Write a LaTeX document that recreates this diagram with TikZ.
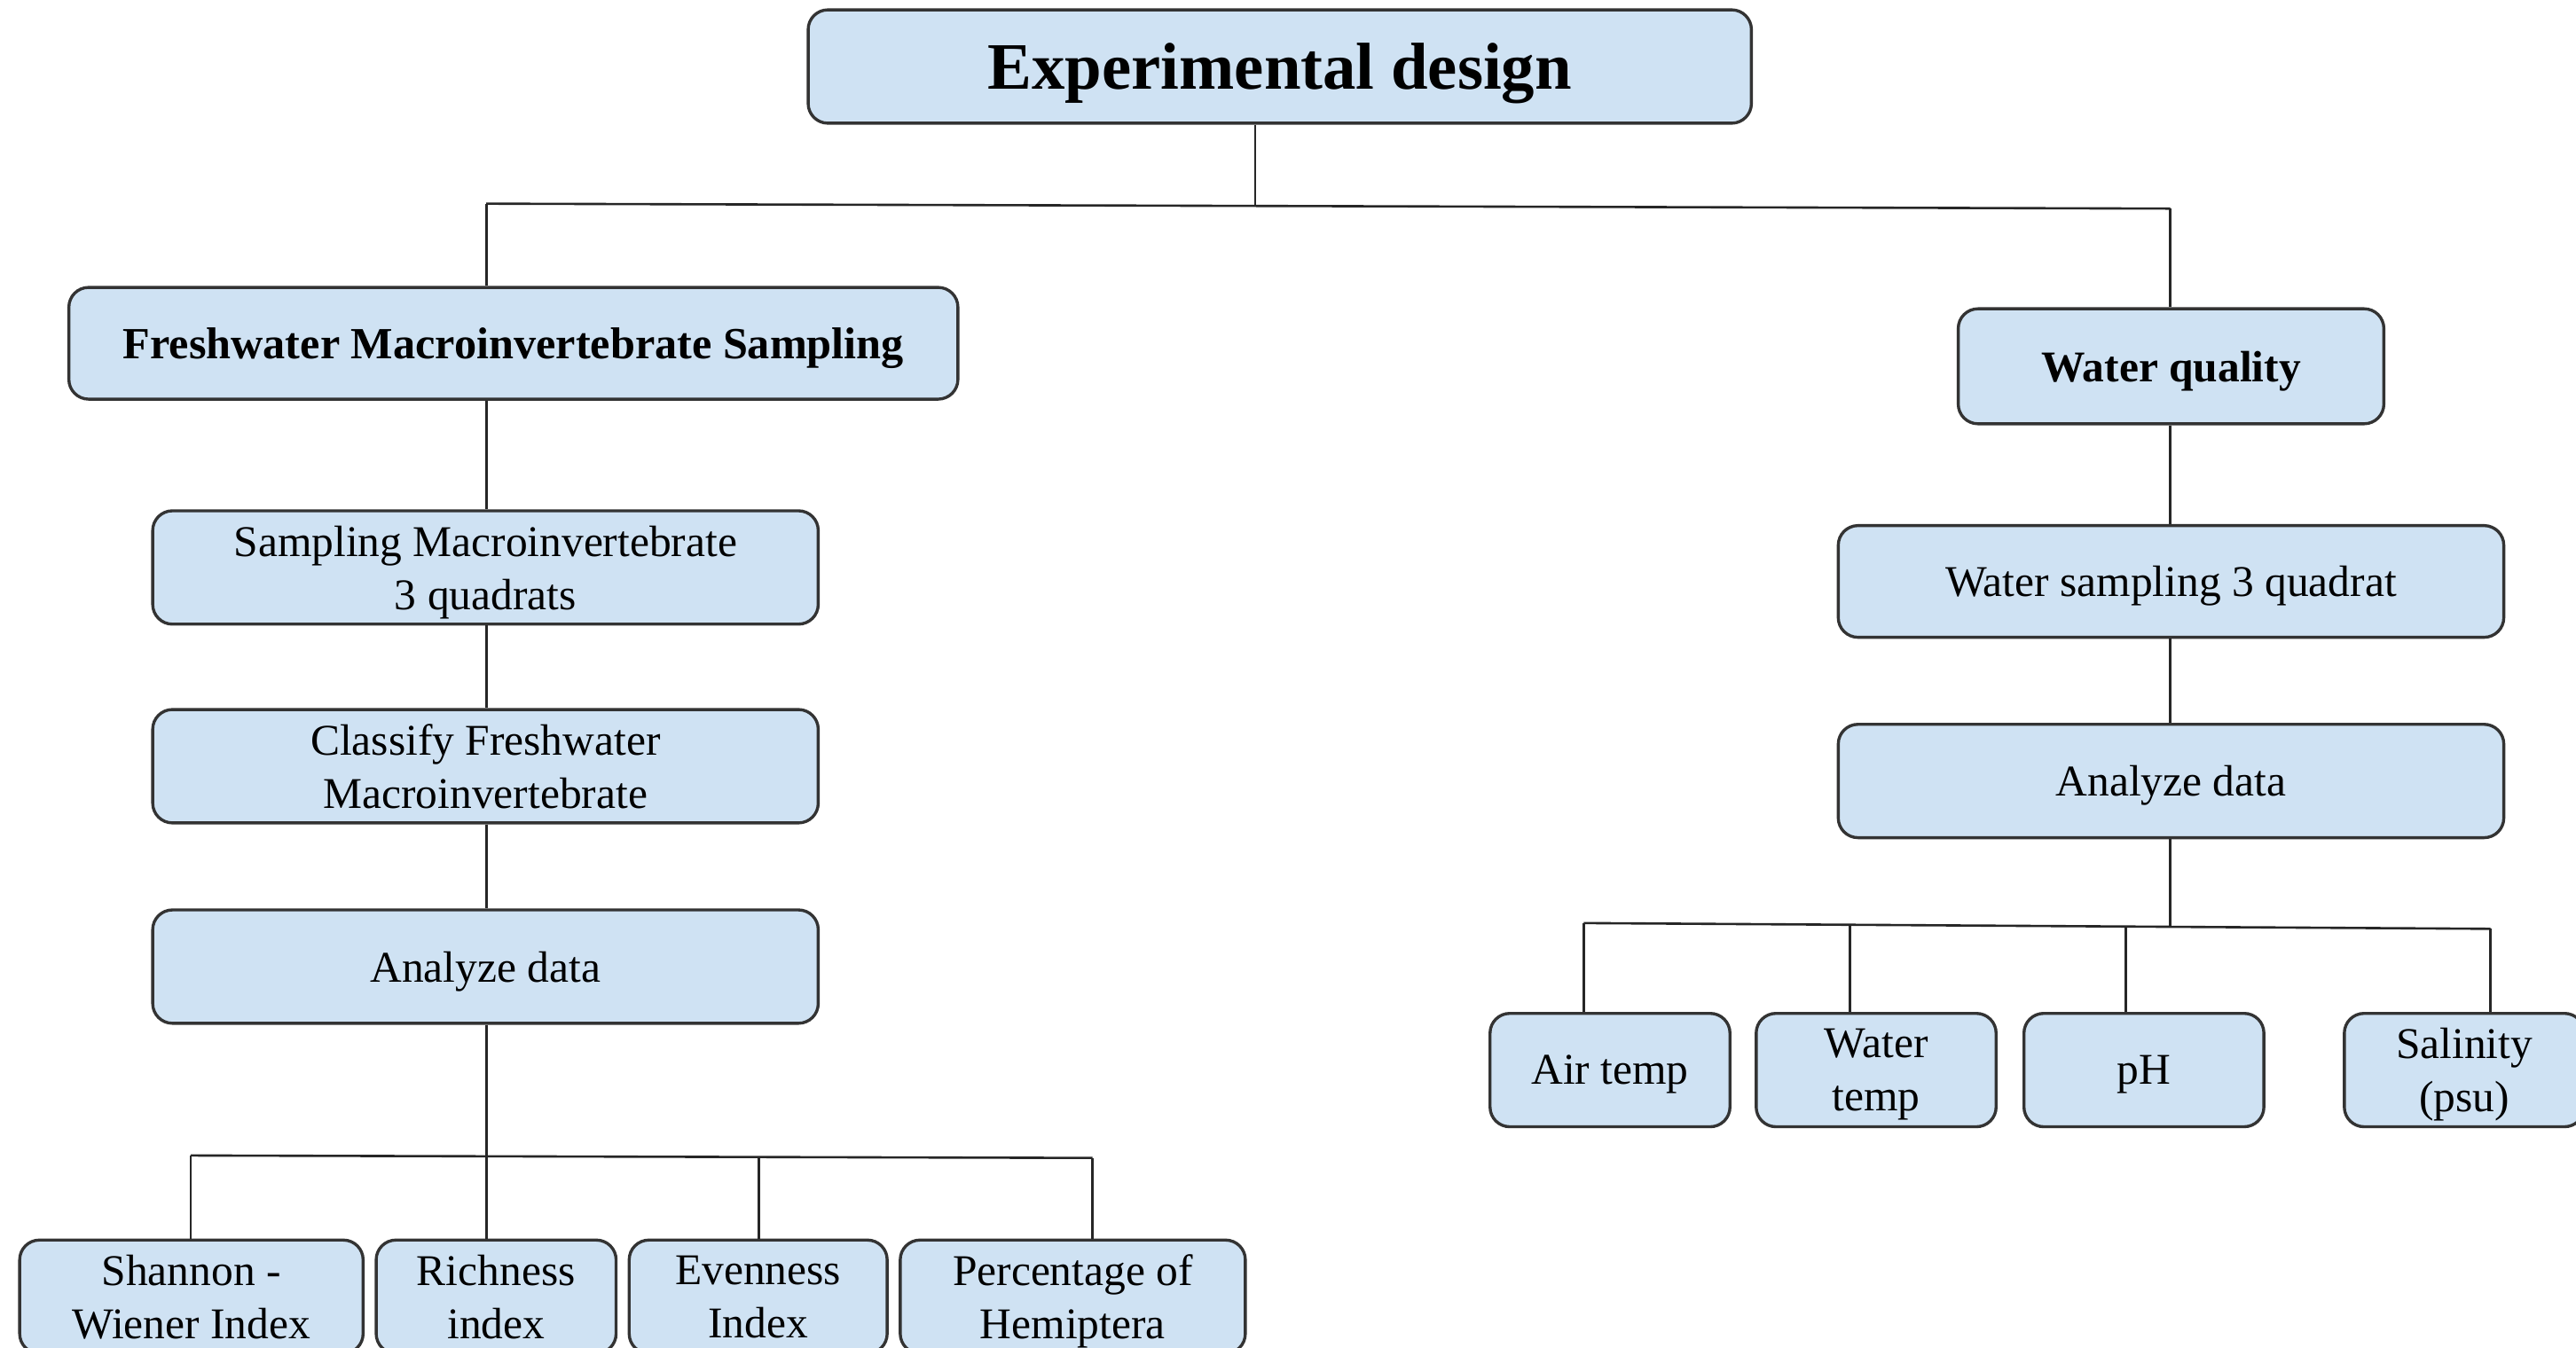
\documentclass[tikz,border=0pt]{standalone}
\usepackage{fontspec}
\setmainfont{Liberation Serif}
\definecolor{boxblue}{HTML}{CFE2F3}
\definecolor{edge}{HTML}{333333}
\tikzset{
  box/.style={draw=edge, line width=1.3pt, fill=boxblue, rounded corners=0.3cm,
    align=center, inner sep=0pt, minimum height=1.725cm, text depth=-0.6pt,
    font=\fontsize{19}{23}\selectfont},
  conn/.style={line width=1pt, draw=black!85},
}
\begin{document}
\begin{tikzpicture}[x=0.025cm, y=-0.025cm]
\useasboundingbox (0,0) rectangle (1568,820.7);
\clip (0,0) rectangle (1568,820.7);
% top
\node[box, minimum width=14.35cm, text depth=-1pt, font=\fontsize{28.7}{34}\selectfont\bfseries] (top) at (779,40.5) {Experimental design};
% left branch
\node[box, minimum width=13.525cm, minimum height=1.7cm, font=\fontsize{19.3}{23}\selectfont\bfseries] (fms) at (312.5,209) {Freshwater Macroinvertebrate Sampling};
\node[box, minimum width=10.125cm] (samp) at (295.5,345.5) {Sampling Macroinvertebrate\\3 quadrats};
\node[box, minimum width=10.125cm] (class) at (295.5,466.5) {Classify Freshwater\\Macroinvertebrate};
\node[box, minimum width=10.125cm] (anL) at (295.5,588.5) {Analyze data};
\node[box, minimum width=5.225cm] (shan) at (116.5,789.5) {Shannon -\\Wiener Index};
\node[box, minimum width=3.65cm] (rich) at (302,789.5) {Richness\\index};
\node[box, minimum width=3.925cm] (even) at (461.5,789.5) {Evenness\\Index};
\node[box, minimum width=5.25cm] (perc) at (653,789.5) {Percentage of\\Hemiptera};
% right branch
\node[box, minimum width=6.475cm, minimum height=1.75cm, font=\fontsize{19}{23}\selectfont\bfseries] (wq) at (1321.5,223) {Water quality};
\node[box, minimum width=10.125cm, minimum height=1.7cm] (ws) at (1321.5,354) {Water sampling 3 quadrat};
\node[box, minimum width=10.125cm] (anR) at (1321.5,475.5) {Analyze data};
\node[box, minimum width=3.65cm] (air) at (980,651.5) {Air temp};
\node[box, minimum width=3.65cm] (wt) at (1142,651.5) {Water\\temp};
\node[box, minimum width=3.65cm] (ph) at (1305,651.5) {pH};
\node[box, minimum width=3.65cm] (sal) at (1500,651.5) {Salinity\\(psu)};
% connectors: top
\coordinate (tb) at (764,125.5);
\coordinate (tl) at (296,124);
\coordinate (tr) at (1321,127);
\draw[conn] (top.south -| tb) -- (tb);
\draw[conn] (tl) -- (tr);
\draw[conn] (tl) -- (tl |- fms.north);
\draw[conn] (tr) -- (tr |- wq.north);
% left chain
\coordinate (lx) at (296,0);
\draw[conn] (fms.south -| lx) -- (samp.north -| lx);
\draw[conn] (samp.south -| lx) -- (class.north -| lx);
\draw[conn] (class.south -| lx) -- (anL.north -| lx);
\coordinate (bl1) at (116,703.5);
\coordinate (bl2) at (296,704);
\coordinate (bl3) at (462,704.5);
\coordinate (bl4) at (665,705);
\draw[conn] (anL.south -| bl2) -- (bl2);
\draw[conn] (bl1) -- (bl4);
\draw[conn] (bl1) -- (bl1 |- shan.north);
\draw[conn] (bl2) -- (bl2 |- rich.north);
\draw[conn] (bl3) -- (bl3 |- even.north);
\draw[conn] (bl4) -- (bl4 |- perc.north);
% right chain
\coordinate (rx) at (1321,0);
\draw[conn] (wq.south -| rx) -- (ws.north -| rx);
\draw[conn] (ws.south -| rx) -- (anR.north -| rx);
\coordinate (br0) at (1321,564);
\coordinate (br1) at (964,562);
\coordinate (br2) at (1126,563);
\coordinate (br3) at (1294,564);
\coordinate (br4) at (1516,565.5);
\draw[conn] (anR.south -| br0) -- (br0);
\draw[conn] (br1) -- (br4);
\draw[conn] (br1) -- (br1 |- air.north);
\draw[conn] (br2) -- (br2 |- wt.north);
\draw[conn] (br3) -- (br3 |- ph.north);
\draw[conn] (br4) -- (br4 |- sal.north);
\end{tikzpicture}
\end{document}
